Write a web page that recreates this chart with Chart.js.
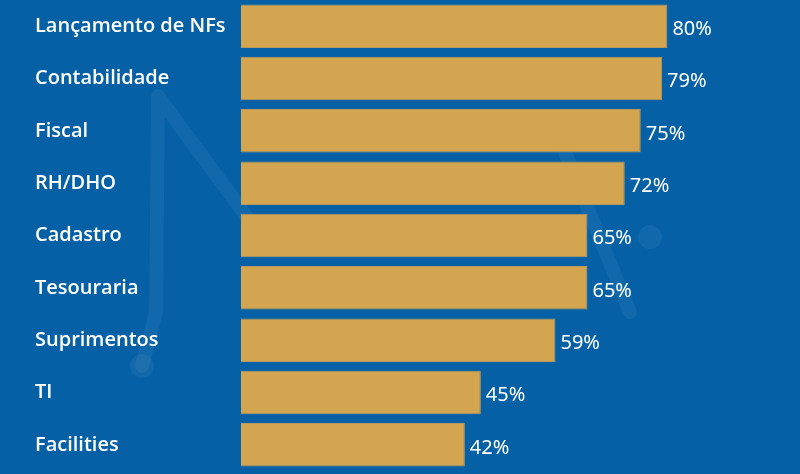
<!DOCTYPE html>
<html>
<head>
<meta charset="utf-8">
<script src="https://cdn.jsdelivr.net/npm/chart.js@4"></script>
<style>
  html, body { margin: 0; padding: 0; background: #0560a6; }
  canvas { display: block; }
</style>
</head>
<body>
<canvas id="areaChart" width="800" height="474"></canvas>
<script>
const categories = ['Lançamento de NFs', 'Contabilidade', 'Fiscal', 'RH/DHO', 'Cadastro', 'Tesouraria', 'Suprimentos', 'TI', 'Facilities'];
const percentages = [80, 79, 75, 72, 65, 65, 59, 45, 42];

// faint logo drawn behind the bars
const watermark = {
    id: 'watermark',
    beforeDatasetsDraw(chart) {
        const ctx = chart.ctx;
        ctx.save();
        ctx.strokeStyle = 'rgba(255,255,255,0.05)';
        ctx.fillStyle = 'rgba(255,255,255,0.05)';
        ctx.lineWidth = 14;
        ctx.lineCap = 'round';
        ctx.lineJoin = 'round';
        ctx.beginPath();
        ctx.moveTo(142, 366);
        ctx.lineTo(156, 312);
        ctx.lineTo(158, 96);
        ctx.lineTo(260, 235);
        ctx.stroke();
        ctx.beginPath();
        ctx.moveTo(560, 140);
        ctx.lineTo(630, 312);
        ctx.stroke();
        ctx.beginPath();
        ctx.arc(142, 366, 12, 0, Math.PI * 2);
        ctx.arc(650, 237, 12, 0, Math.PI * 2);
        ctx.fill();
        ctx.restore();
    }
};

// percentage text right of each bar
const valueLabels = {
    id: 'valueLabels',
    afterDatasetsDraw(chart) {
        const ctx = chart.ctx;
        const meta = chart.getDatasetMeta(0);
        ctx.save();
        ctx.fillStyle = '#ffffff';
        ctx.font = '20px "Noto Sans"';
        ctx.textAlign = 'left';
        ctx.textBaseline = 'middle';
        meta.data.forEach((bar, i) => {
            ctx.fillText(percentages[i] + '%', bar.x + 5, bar.y + 3);
        });
        ctx.restore();
    }
};

const ctx = document.getElementById('areaChart').getContext('2d');
new Chart(ctx, {
    type: 'bar',
    data: {
        labels: categories,
        datasets: [{
            data: percentages,
            backgroundColor: '#d4a551',
            borderColor: '#b99a5e',
            borderWidth: 1,
            barPercentage: 0.83,
            categoryPercentage: 1
        }]
    },
    options: {
        indexAxis: 'y',
        responsive: false,
        animation: false,
        layout: { padding: { left: 35, right: 26, top: 0, bottom: 3 } },
        plugins: {
            legend: { display: false },
            tooltip: { enabled: false }
        },
        scales: {
            x: { display: false, min: 0, max: 100 },
            y: {
                grid: { display: false },
                border: { display: false },
                afterFit(scale) {
                    scale.width = 206;
                    scale.paddingTop = 0;
                    scale.paddingBottom = 0;
                },
                ticks: {
                    crossAlign: 'far',
                    color: '#ffffff',
                    font: { family: '"Open Sans"', size: 20, weight: '600' }
                }
            }
        }
    },
    plugins: [watermark, valueLabels]
});
</script>
</body>
</html>
